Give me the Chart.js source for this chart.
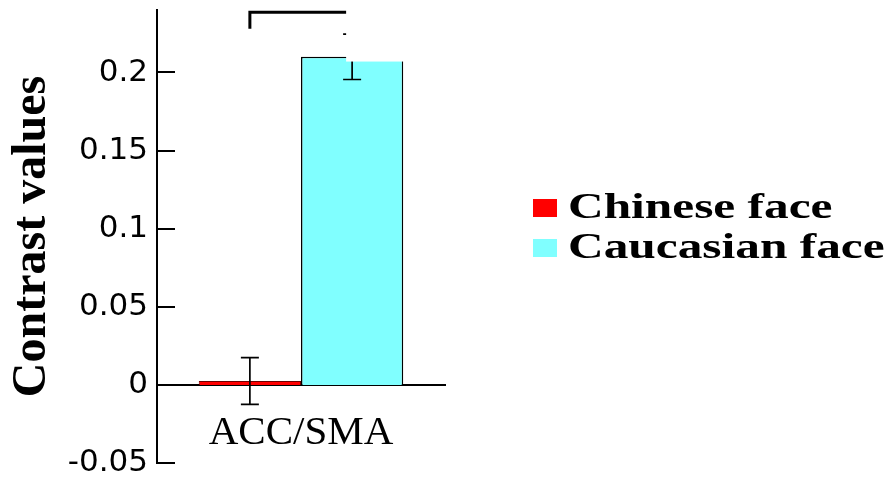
<!DOCTYPE html>
<html>
<head>
<meta charset="utf-8">
<script src="https://cdn.jsdelivr.net/npm/chart.js@4.4.1/dist/chart.umd.min.js"></script>
<style>
  html, body { margin: 0; padding: 0; background: #fff; }
  #wrap { width: 890px; height: 480px; }
</style>
</head>
<body>
<div id="wrap"><canvas id="chart"></canvas></div>
<script>
// values
const regions = ['ACC/SMA'];
const seriesNames = ['Chinese face', 'Caucasian face'];
const chineseValues = [0.0025];
const caucasianValues = [0.21];
const chineseErrors = [0.015];
const caucasianErrors = [0.0145];
const yTicks = [-0.05, 0, 0.05, 0.1, 0.15, 0.2];
const yMin = -0.05;
const yMax = 0.24;
// significance bracket (in data units)
const bracketLevel = 0.2385;
const bracketLegEnd = 0.228;
// the original figure has a white patch pasted over the top of the cyan bar
const patchBottom = 0.207;

const errors = [chineseErrors, caucasianErrors];

// tick marks on the inside of the y axis
const innerTicks = {
  id: 'innerTicks',
  afterDraw(chart) {
    const { ctx, chartArea, scales: { y } } = chart;
    ctx.save();
    ctx.strokeStyle = '#000';
    ctx.lineWidth = 2;
    yTicks.forEach(v => {
      const py = Math.round(y.getPixelForValue(v));
      ctx.beginPath();
      ctx.moveTo(chartArea.left, py);
      ctx.lineTo(chartArea.left + 18, py);
      ctx.stroke();
    });
    ctx.restore();
  }
};

const errorBars = {
  id: 'errorBars',
  afterDatasetsDraw(chart) {
    const { ctx, scales: { y } } = chart;
    ctx.save();
    ctx.strokeStyle = '#000';
    ctx.lineWidth = 1.7;
    chart.data.datasets.forEach((ds, i) => {
      chart.getDatasetMeta(i).data.forEach((bar, j) => {
        const v = ds.data[j];
        const e = errors[i][j];
        const top = y.getPixelForValue(v + e);
        const bot = y.getPixelForValue(v - e);
        ctx.beginPath();
        ctx.moveTo(bar.x, top); ctx.lineTo(bar.x, bot);
        ctx.moveTo(bar.x - 9, top); ctx.lineTo(bar.x + 9, top);
        ctx.moveTo(bar.x - 9, bot); ctx.lineTo(bar.x + 9, bot);
        ctx.stroke();
      });
    });

    // bracket between the two bars
    const a = chart.getDatasetMeta(0).data[0];
    const b = chart.getDatasetMeta(1).data[0];
    const by = y.getPixelForValue(bracketLevel);
    const ly = y.getPixelForValue(bracketLegEnd);
    ctx.lineWidth = 3;
    ctx.beginPath();
    ctx.moveTo(a.x, ly); ctx.lineTo(a.x, by); ctx.lineTo(b.x, by); ctx.lineTo(b.x, ly);
    ctx.stroke();

    // white patch
    ctx.fillStyle = '#fff';
    const pTop = chart.chartArea.top - 2;
    const pBot = y.getPixelForValue(patchBottom);
    ctx.fillRect(b.x - 6, pTop, b.width / 2 + 13, pBot - pTop);
    ctx.restore();
  }
};

// legend drawn by hand: the original uses a wide, stretched bold serif
const wideLegend = {
  id: 'wideLegend',
  afterDraw(chart) {
    const { ctx } = chart;
    chart.data.datasets.forEach((ds, i) => {
      const base = 218 + i * 40;
      ctx.save();
      ctx.fillStyle = ds.backgroundColor;
      ctx.fillRect(533, base - 19, 24, 18);
      ctx.translate(568, base);
      ctx.scale(1.41, 1);
      ctx.fillStyle = '#000';
      ctx.font = 'bold 35px "Liberation Serif"';
      ctx.textBaseline = 'alphabetic';
      ctx.fillText(ds.label, 0, 0);
      ctx.restore();
    });
  }
};

new Chart(document.getElementById('chart'), {
  type: 'bar',
  data: {
    labels: regions,
    datasets: [
      {
        label: seriesNames[0],
        data: chineseValues,
        backgroundColor: '#ff0000',
        borderColor: '#700000',
        borderWidth: 1,
        barPercentage: 1,
        categoryPercentage: 0.71
      },
      {
        label: seriesNames[1],
        data: caucasianValues,
        backgroundColor: '#80ffff',
        borderColor: '#000',
        borderWidth: 1.5,
        barPercentage: 1,
        categoryPercentage: 0.71
      }
    ]
  },
  options: {
    responsive: true,
    maintainAspectRatio: false,
    animation: false,
    layout: { padding: { top: 0, left: 0, bottom: 0, right: 445 } },
    plugins: {
      tooltip: { enabled: false },
      legend: { display: false }
    },
    scales: {
      x: {
        type: 'category',
        position: { y: 0 },
        offset: true,
        grid: { display: false, drawTicks: false },
        border: { display: true, color: '#000', width: 2 },
        ticks: {
          color: '#000',
          padding: 24,
          font: { family: 'Liberation Serif', size: 41 }
        }
      },
      y: {
        min: yMin,
        max: yMax,
        afterBuildTicks: s => { s.ticks = yTicks.map(v => ({ value: v })); },
        afterFit: s => { s.width = 157; s.paddingTop = 10; s.paddingBottom = 17; },
        grid: { display: false, drawTicks: false },
        border: { display: true, color: '#000', width: 2 },
        ticks: {
          color: '#000',
          padding: 9,
          font: { family: 'DejaVu Sans', size: 31 },
          callback: v => String(v)
        },
        title: {
          display: true,
          text: 'Contrast values',
          color: '#000',
          font: { family: 'Liberation Serif', weight: 'bold', size: 48 },
          padding: { top: 4, bottom: 0 }
        }
      }
    }
  },
  plugins: [innerTicks, errorBars, wideLegend]
});
</script>
</body>
</html>
